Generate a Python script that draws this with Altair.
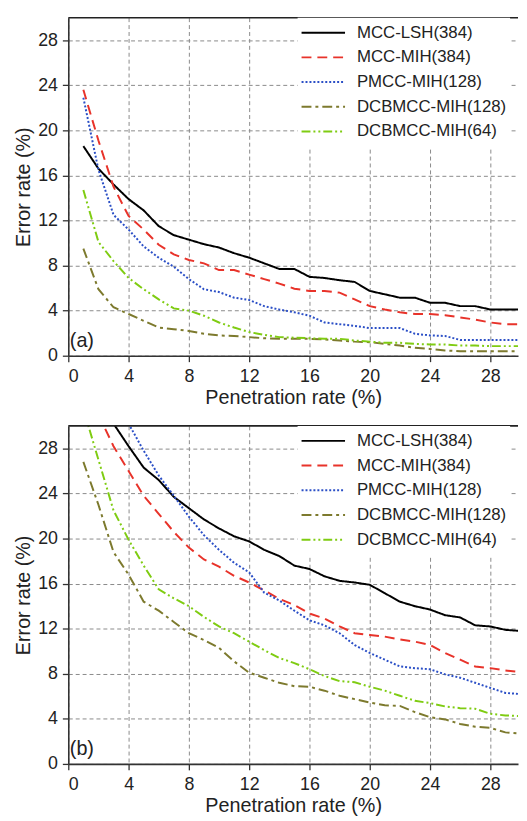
import altair as alt
import pandas as pd

x_vals = list(range(1, 31))

series_names = ["MCC-LSH(384)", "MCC-MIH(384)", "PMCC-MIH(128)",
                "DCBMCC-MIH(128)", "DCBMCC-MIH(64)"]
series_colors = ["#000000", "#e8332a", "#2b4fc6", "#7d7a2e", "#7fcc12"]
series_dashes = [[1, 0], [10, 6], [2, 2], [10, 4, 3, 4], [9, 3, 2, 3, 2, 3]]

# panel (a)
a_mcc_lsh = [18.6, 16.6, 15.2, 13.9, 12.9, 11.5, 10.7, 10.3, 9.9, 9.6, 9.1, 8.7, 8.2, 7.7, 7.7,
             7.0, 6.9, 6.7, 6.55, 5.75, 5.45, 5.15, 5.15, 4.7, 4.7, 4.4, 4.4, 4.1, 4.1, 4.1]
a_mcc_mih = [23.6, 19.1, 15.0, 12.4, 11.2, 9.85, 9.0, 8.5, 8.2, 7.6, 7.6, 7.2, 6.8, 6.4, 5.95,
             5.75, 5.75, 5.6, 5.0, 4.4, 4.1, 3.85, 3.7, 3.7, 3.6, 3.4, 3.2, 2.95, 2.8, 2.8]
a_pmcc = [22.9, 16.5, 12.5, 11.2, 9.7, 8.7, 7.9, 6.8, 5.9, 5.65, 5.15, 4.95, 4.4, 4.1, 3.85,
          3.55, 2.95, 2.8, 2.65, 2.45, 2.45, 2.45, 1.95, 1.8, 1.75, 1.4, 1.4, 1.4, 1.4, 1.4]
a_dcb128 = [9.5, 5.9, 4.3, 3.7, 3.1, 2.5, 2.35, 2.2, 1.95, 1.8, 1.75, 1.65, 1.55, 1.5, 1.5,
            1.5, 1.45, 1.35, 1.25, 1.2, 1.05, 0.9, 0.7, 0.6, 0.47, 0.4, 0.4, 0.4, 0.4, 0.4]
a_dcb64 = [14.7, 10.1, 8.4, 6.9, 5.9, 5.0, 4.2, 4.0, 3.55, 2.95, 2.5, 2.1, 1.85, 1.65, 1.6,
           1.55, 1.5, 1.5, 1.35, 1.25, 1.15, 1.15, 1.05, 1.0, 1.0, 0.9, 0.9, 0.85, 0.85, 0.85]

# panel (b)
b_mcc_lsh = [40.0, 35.0, 30.2, 28.2, 26.3, 25.2, 23.7, 22.7, 21.7, 20.9, 20.2, 19.75, 19.0, 18.45, 17.6,
             17.3, 16.65, 16.25, 16.1, 15.9, 15.15, 14.4, 14.0, 13.7, 13.2, 13.0, 12.3, 12.2, 11.9, 11.8]
b_mcc_mih = [35.0, 31.0, 28.2, 26.0, 23.8, 22.2, 20.6, 19.2, 18.15, 17.5, 16.7, 16.1, 15.4, 14.65, 14.1,
             13.35, 12.9, 12.2, 11.6, 11.45, 11.3, 11.05, 10.85, 10.55, 9.85, 9.25, 8.65, 8.5, 8.3, 8.15]
b_pmcc = [44.0, 38.0, 33.5, 30.2, 27.8, 25.6, 23.8, 21.95, 20.3, 19.0, 17.85, 17.0, 15.2, 14.5, 13.6,
          12.75, 12.3, 11.6, 10.55, 9.85, 9.25, 8.65, 8.5, 8.4, 7.95, 7.65, 7.2, 6.75, 6.3, 6.2]
b_dcb128 = [26.8, 23.0, 18.8, 16.8, 14.4, 13.6, 12.6, 11.6, 11.0, 10.3, 9.1, 8.1, 7.65, 7.2, 6.9,
            6.85, 6.5, 6.05, 5.75, 5.45, 5.2, 5.15, 4.6, 4.15, 3.95, 3.55, 3.3, 3.2, 2.8, 2.7]
b_dcb64 = [31.5, 27.0, 22.5, 19.9, 17.6, 15.5, 14.7, 14.0, 13.05, 12.2, 11.6, 10.85, 10.1, 9.4, 8.95,
           8.4, 7.8, 7.35, 7.25, 6.85, 6.5, 6.05, 5.6, 5.4, 5.1, 4.95, 4.9, 4.45, 4.3, 4.25]

axis_ticks = list(range(0, 30, 2))
panel_labels = ["(a)", "(b)"]

W, H = 455, 342
X_MAX = 29.84
FONT = "Liberation Sans"
MAJOR = "datum.value % 4 === 0"


def make_df(series_values):
    rows = []
    for name, vals in zip(series_names, series_values):
        for xv, yv in zip(x_vals, vals):
            rows.append({"x": xv, "y": yv, "series": name})
    return pd.DataFrame(rows)


def grid_axis(title, label_pad, title_pad):
    return alt.Axis(
        values=axis_ticks,
        title=title,
        grid=True,
        gridColor={"condition": {"test": MAJOR, "value": "#8a8a8a"}, "value": "#c4c4c4"},
        gridDash={"condition": {"test": MAJOR, "value": [4, 3]}, "value": [2, 2]},
        gridWidth=1,
        tickSize={"condition": {"test": MAJOR, "value": 6}, "value": 3},
        tickColor="#333333",
        tickWidth=1.3,
        domainColor="#333333",
        domainWidth=1.6,
        labelExpr="datum.value % 4 === 0 ? datum.label : ''",
        labelFont=FONT,
        labelFontSize=18,
        labelColor="#222222",
        labelPadding=label_pad,
        titleFont=FONT,
        titleFontSize=20,
        titleFontWeight="normal",
        titleColor="#222222",
        titlePadding=title_pad,
    )


def panel(series_values, label):
    df = make_df(series_values)
    legend = alt.Legend(
        title=None, orient="none", legendX=232, legendY=0,
        symbolType="stroke", symbolSize=1936, symbolStrokeWidth=2,
        labelFont=FONT, labelFontSize=17, labelColor="#222222",
        labelOffset=11, fillColor="white", padding=3, rowPadding=0,
        clipHeight=24.3, symbolOffset=0,
    )
    x_enc = alt.X("x:Q", scale=alt.Scale(domain=[0, X_MAX], nice=False, zero=False),
                  axis=grid_axis("Penetration rate (%)", 6, 2))
    y_enc = alt.Y("y:Q", scale=alt.Scale(domain=[0, 30], nice=False),
                  axis=grid_axis("Error rate (%)", 5, 4))
    lines = alt.Chart(df).mark_line(clip=True, strokeWidth=2).encode(
        x=x_enc,
        y=y_enc,
        color=alt.Color("series:N", scale=alt.Scale(domain=series_names, range=series_colors),
                        legend=legend, sort=series_names),
        strokeDash=alt.StrokeDash("series:N", scale=alt.Scale(domain=series_names, range=series_dashes),
                                  legend=legend, sort=series_names),
        detail="series:N",
    )
    lab_df = pd.DataFrame({"x": [0.1], "y": [0.75], "label": [label]})
    lab = alt.Chart(lab_df).mark_text(align="left", baseline="alphabetic", font=FONT,
                                      fontSize=20, color="#222222").encode(
        x="x:Q", y="y:Q", text="label:N")
    frame = alt.Chart(lab_df).mark_rule(color="#222222", strokeWidth=1.6).encode(
        x=alt.value(0), x2=alt.value(W), y=alt.value(0))
    return alt.layer(lines, lab, frame).properties(width=W, height=H).resolve_scale(
        color="independent", strokeDash="independent")


top = panel([a_mcc_lsh, a_mcc_mih, a_pmcc, a_dcb128, a_dcb64], panel_labels[0])
bottom = panel([b_mcc_lsh, b_mcc_mih, b_pmcc, b_dcb128, b_dcb64], panel_labels[1])

chart = alt.vconcat(top, bottom, spacing=18).resolve_scale(
    color="independent", strokeDash="independent"
).configure_view(stroke=None).properties(
    padding={"left": 5, "top": 4, "right": 0, "bottom": 5},
    background="white",
)

chart.save("out.html", embed_options={"renderer": "svg", "actions": False})
